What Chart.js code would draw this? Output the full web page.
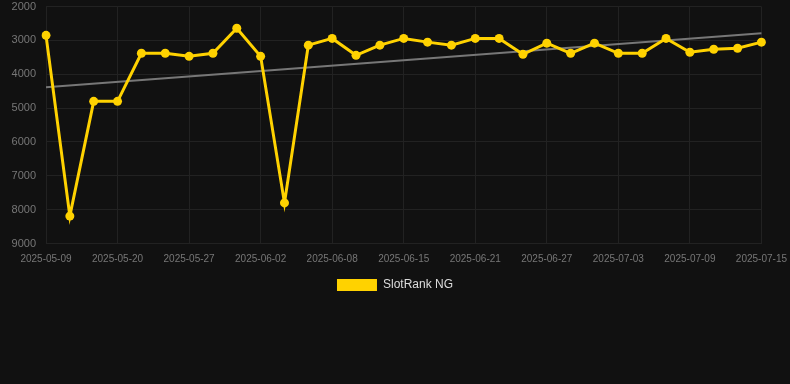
<!DOCTYPE html>
<html>
<head>
<meta charset="utf-8">
<script src="https://cdn.jsdelivr.net/npm/chart.js@4"></script>
<style>
  html, body { margin: 0; padding: 0; background: #111111; }
  #wrap { position: relative; width: 790px; height: 301px; }
</style>
</head>
<body>
<div id="wrap"><canvas id="rankChart"></canvas></div>
<script>
// --- DATA ---
const dates = [
    '2025-05-09', '2025-05-13', '2025-05-16', '2025-05-20', '2025-05-22', '2025-05-25',
    '2025-05-27', '2025-05-29', '2025-05-31', '2025-06-02', '2025-06-04', '2025-06-06',
    '2025-06-08', '2025-06-10', '2025-06-13', '2025-06-15', '2025-06-17', '2025-06-19',
    '2025-06-21', '2025-06-23', '2025-06-25', '2025-06-27', '2025-06-29', '2025-07-01',
    '2025-07-03', '2025-07-05', '2025-07-07', '2025-07-09', '2025-07-11', '2025-07-13',
    '2025-07-15'
];
const rankValues = [
    2850, 8190, 4800, 4800, 3380, 3380, 3470, 3380, 2640, 3470, 7800, 3140,
    2940, 3440, 3140, 2940, 3050, 3140, 2940, 2940, 3410, 3080, 3380, 3080,
    3380, 3380, 2940, 3350, 3260, 3230, 3050
];
const trendStart = 4380;
const trendEnd = 2790;
const yTicks = [2000, 3000, 4000, 5000, 6000, 7000, 8000, 9000];

const seriesName = 'SlotRank NG';
const lineColor = '#FFD200';

document.addEventListener('DOMContentLoaded', function () {
    const ctx = document.getElementById('rankChart').getContext('2d');

    new Chart(ctx, {
        type: 'line',
        data: {
            labels: dates,
            datasets: [
                {
                    label: seriesName,
                    data: rankValues,
                    borderColor: lineColor,
                    backgroundColor: lineColor,
                    borderWidth: 3,
                    pointRadius: 4.5,
                    pointBackgroundColor: lineColor,
                    pointBorderWidth: 0,
                    tension: 0
                },
                {
                    label: 'trend',
                    data: [
                        { x: dates[0], y: trendStart },
                        { x: dates[dates.length - 1], y: trendEnd }
                    ],
                    borderColor: '#777777',
                    borderWidth: 2,
                    pointRadius: 0,
                    fill: false
                }
            ]
        },
        options: {
            responsive: true,
            maintainAspectRatio: false,
            animation: false,
            layout: { autoPadding: false, padding: 0 },
            scales: {
                y: {
                    reverse: true,
                    min: 2000,
                    max: 9000,
                    afterBuildTicks: (axis) => {
                        axis.ticks = yTicks.map(v => ({ value: v }));
                    },
                    // widen the axis so the labels sit a bit in from the left edge
                    afterFit: (axis) => { axis.width = 46; },
                    ticks: {
                        color: '#777777',
                        font: { family: 'Arial, "Liberation Sans", sans-serif', size: 11 },
                        padding: 0,
                        callback: (v) => String(v)
                    },
                    grid: { color: '#222222', drawTicks: true, tickLength: 10, tickColor: 'rgba(0,0,0,0)' },
                    border: { display: false }
                },
                x: {
                    ticks: {
                        color: '#777777',
                        font: { family: 'Arial, "Liberation Sans", sans-serif', size: 10 },
                        maxRotation: 0,
                        autoSkip: true,
                        callback: function (val, index) {
                            return index % 3 === 0 ? this.getLabelForValue(val) : null;
                        },
                        padding: 3
                    },
                    grid: { color: '#222222', drawTicks: true, tickLength: 7, tickColor: 'rgba(0,0,0,0)' },
                    border: { display: false }
                }
            },
            plugins: {
                legend: {
                    position: 'bottom',
                    labels: {
                        color: '#dddddd',
                        boxWidth: 40,
                        boxHeight: 12,
                        padding: 10.5,
                        font: { family: 'Arial, "Liberation Sans", sans-serif', size: 12 },
                        filter: (item) => item.text === seriesName,
                        generateLabels: (chart) => {
                            const items = Chart.defaults.plugins.legend.labels.generateLabels(chart);
                            items.forEach(it => { it.lineWidth = 0; it.strokeStyle = 'transparent'; });
                            return items;
                        }
                    }
                },
                tooltip: { enabled: false }
            }
        }
    });
});
</script>
</body>
</html>
